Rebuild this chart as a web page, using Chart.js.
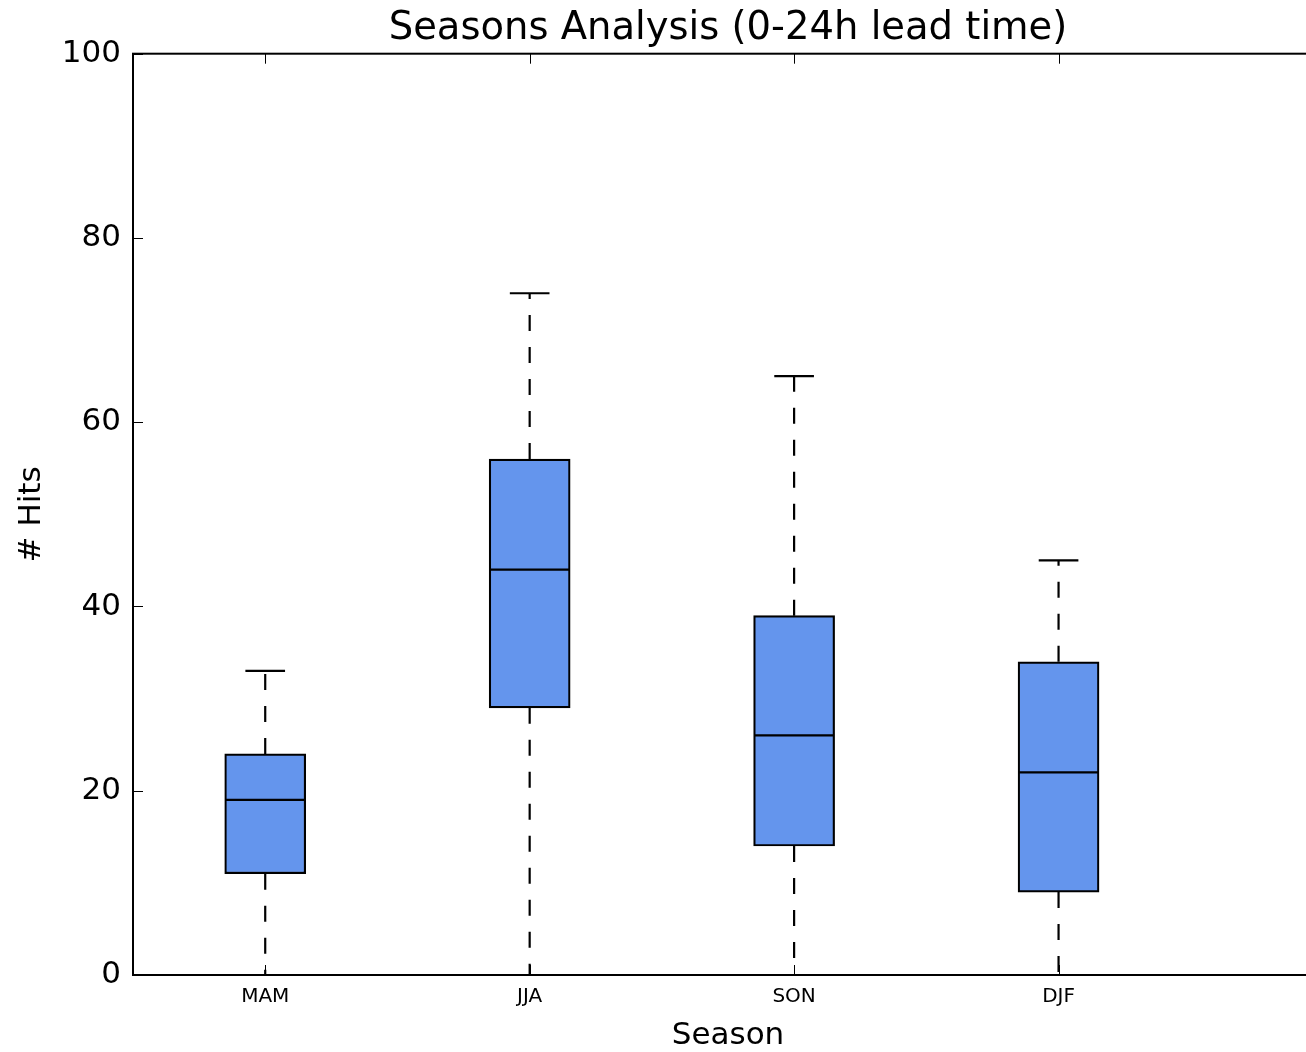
<!DOCTYPE html>
<html>
<head>
<meta charset="utf-8">
<script src="https://cdn.jsdelivr.net/npm/chart.js@4.4.1/dist/chart.umd.min.js"></script>
<style>
    html, body { margin: 0; padding: 0; background: #fff; overflow: hidden; }
    canvas { display: block; }
</style>
</head>
<body>
<canvas id="seasonsChart" width="1340" height="1052"></canvas>
<script>
// Box plot values per season
const seasons = ['MAM', 'JJA', 'SON', 'DJF'];
const whiskerLow = [0, 0, 0, 0];
const q1 = [11, 29, 14, 9];
const median = [19, 44, 26, 22];
const q3 = [24, 56, 39, 34];
const whiskerHigh = [33, 74, 65, 45];
const yTicks = [0, 20, 40, 60, 80, 100];

const boxHalf = 0.15;
const capHalf = 0.075;

// helpers to build line segments separated by gaps
function segments(fn) {
    const pts = [];
    seasons.forEach((s, i) => {
        fn(i).forEach(p => pts.push(p));
        pts.push({x: i + 1, y: null});
    });
    return pts;
}

const boxData = seasons.map((s, i) => ({x: i + 1, y: [q1[i], q3[i]]}));
const medianData = segments(i => [{x: i + 1 - boxHalf, y: median[i]}, {x: i + 1 + boxHalf, y: median[i]}]);
const upperWhisker = segments(i => [{x: i + 1, y: q3[i]}, {x: i + 1, y: whiskerHigh[i]}]);
const lowerWhisker = segments(i => [{x: i + 1, y: q1[i]}, {x: i + 1, y: whiskerLow[i]}]);
const capData = segments(i => [{x: i + 1 - capHalf, y: whiskerHigh[i]}, {x: i + 1 + capHalf, y: whiskerHigh[i]}])
    .concat(segments(i => [{x: i + 1 - capHalf, y: whiskerLow[i]}, {x: i + 1 + capHalf, y: whiskerLow[i]}]));

const lineStyle = {
    type: 'line',
    borderColor: '#000',
    borderWidth: 2.2,
    pointRadius: 0,
    spanGaps: false,
    tension: 0,
    order: 1,
};

// spines and inward tick marks (matplotlib classic look)
const framePlugin = {
    id: 'frame',
    afterDraw(chart) {
        const {ctx, chartArea: a, scales} = chart;
        ctx.save();
        ctx.strokeStyle = '#000';
        ctx.lineWidth = 1;
        ctx.beginPath();
        yTicks.forEach(v => {
            const y = Math.round(scales.y.getPixelForValue(v)) + 0.5;
            ctx.moveTo(a.left, y); ctx.lineTo(a.left + 10, y);
            ctx.moveTo(a.right, y); ctx.lineTo(a.right - 10, y);
        });
        seasons.forEach((s, i) => {
            const x = Math.round(scales.x.getPixelForValue(i + 1)) + 0.5;
            ctx.moveTo(x, a.bottom); ctx.lineTo(x, a.bottom - 10);
            ctx.moveTo(x, a.top); ctx.lineTo(x, a.top + 10);
        });
        ctx.stroke();
        ctx.lineWidth = 2;
        ctx.strokeRect(a.left, a.top, a.right - a.left, a.bottom - a.top);
        ctx.restore();
    }
};

const ctx = document.getElementById('seasonsChart').getContext('2d');
Chart.defaults.font.family = "'DejaVu Sans', sans-serif";
Chart.defaults.color = '#000';

const seasonsChart = new Chart(ctx, {
    type: 'bar',
    data: {
        datasets: [
            {
                label: 'Box',
                data: boxData,
                backgroundColor: '#6495ED',
                borderColor: '#000',
                borderWidth: 2.2,
                borderSkipped: false,
                barThickness: 81,
                order: 2,
            },
            Object.assign({label: 'Median', data: medianData}, lineStyle),
            Object.assign({label: 'Upper whisker', data: upperWhisker, borderDash: [16, 16]}, lineStyle),
            Object.assign({label: 'Lower whisker', data: lowerWhisker, borderDash: [16, 16]}, lineStyle),
            Object.assign({label: 'Caps', data: capData}, lineStyle),
        ]
    },
    options: {
        responsive: false,
        animation: false,
        layout: {
            padding: {top: 0, right: 17, bottom: 0, left: 0}
        },
        plugins: {
            legend: {display: false},
            tooltip: {enabled: false},
            title: {
                display: true,
                fullSize: false,
                text: 'Seasons Analysis (0-24h lead time)',
                font: {size: 38.5, weight: 'normal'},
                color: '#000',
                padding: {top: 6, bottom: 1.5},
            },
        },
        scales: {
            x: {
                type: 'linear',
                min: 0.5,
                max: 5,
                offset: false,
                grid: {display: false, drawTicks: false, offset: false},
                border: {display: false},
                afterBuildTicks: scale => {
                    scale.ticks = seasons.map((s, i) => ({value: i + 1}));
                },
                afterFit: scale => { scale.height = 77; },
                ticks: {
                    autoSkip: false,
                    maxRotation: 0,
                    padding: 10,
                    font: {size: 20},
                    callback: value => seasons[value - 1],
                },
                title: {
                    display: true,
                    text: 'Season',
                    font: {size: 31, lineHeight: 1.05},
                    padding: {top: 0, bottom: 0},
                },
            },
            y: {
                min: 0,
                max: 100,
                grid: {display: false, drawTicks: false},
                border: {display: false},
                afterBuildTicks: scale => {
                    scale.ticks = yTicks.map(v => ({value: v}));
                },
                afterFit: scale => { scale.width = 133; },
                ticks: {
                    padding: 12,
                    font: {size: 31},
                },
                title: {
                    display: true,
                    text: '# Hits',
                    font: {size: 31},
                    padding: {top: 13, bottom: 0},
                },
            },
        },
    },
    plugins: [framePlugin],
});
</script>
</body>
</html>
